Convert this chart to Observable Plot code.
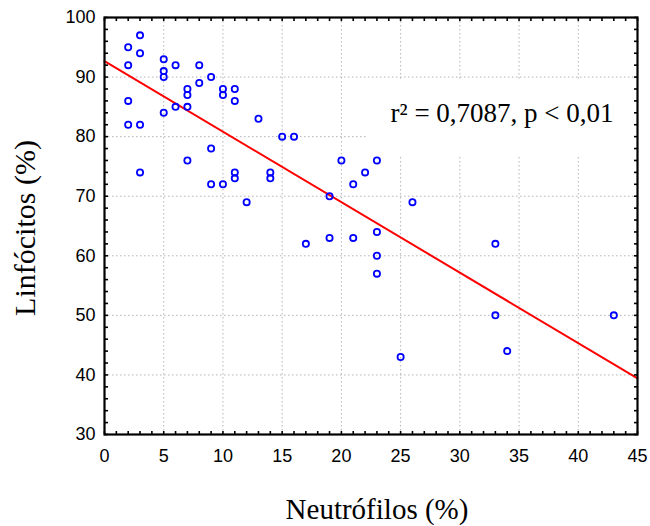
<!DOCTYPE html>
<html>
<head>
<meta charset="utf-8">
<script src="https://cdn.jsdelivr.net/npm/d3@7"></script>
<script src="https://cdn.jsdelivr.net/npm/@observablehq/plot@0.6"></script>
<style>
  html, body { margin: 0; padding: 0; background: #fff; }
</style>
</head>
<body>
<div id="chart"></div>
<script>
// Data
const neutrofilos = [2,2,2,2, 3,3,3,3, 5,5,5,5, 6,6, 7,7,7,7, 8,8, 9,9,9, 10,10,10, 11,11,11,11, 12, 13, 14,14, 15, 16, 17, 19,19, 20, 21,21, 22, 23,23,23,23, 25, 26, 33,33, 34, 43];
const linfocitos  = [95,92,86,82, 97,94,82,74, 93,91,90,84, 92,85, 88,87,85,76, 92,89, 90,78,72, 88,87,72, 88,86,74,73, 69, 83, 74,73, 80, 80, 62, 70,63, 76, 72,63, 74, 76,64,60,57, 43, 69, 62,50, 44, 50];

const xTickLabels = [0,5,10,15,20,25,30,35,40,45];
const yTickLabels = [30,40,50,60,70,80,90,100];
const xLabel = "Neutrófilos (%)";
const yLabel = "Linfócitos (%)";
const annotationText = "r² = 0,7087, p < 0,01";
const annotationAt = [{x: 24.15, y: 82.4}];
const annotationBox = [{x1: 22.3, x2: 45, y1: 76.6, y2: 89.4}];

const points = neutrofilos.map((x, i) => ({x, y: linfocitos[i]}));

// least-squares fit computed from the data
const mx = d3.mean(neutrofilos), my = d3.mean(linfocitos);
const sxy = d3.sum(points, p => (p.x - mx) * (p.y - my));
const sxx = d3.sum(points, p => (p.x - mx) ** 2);
const slope = sxy / sxx, intercept = my - slope * mx;
const xDomain = [0, 45];
const fitLine = xDomain.map(x => ({x, y: intercept + slope * x}));

const serif = "'Liberation Serif', 'Times New Roman', serif";
const sans = "'Liberation Sans', Arial, sans-serif";

const chart = Plot.plot({
  width: 650,
  height: 526,
  marginLeft: 104,
  marginRight: 13,
  marginTop: 17,
  marginBottom: 92,
  style: {background: "#fff", fontFamily: sans, color: "#000", overflow: "visible"},
  x: {domain: xDomain},
  y: {domain: [30, 100]},
  marks: [
    Plot.gridX(xTickLabels, {stroke: "#b4b4b4", strokeOpacity: 1, strokeWidth: 1, strokeDasharray: "1.5,2.5"}),
    Plot.gridY(yTickLabels, {stroke: "#b4b4b4", strokeOpacity: 1, strokeWidth: 1, strokeDasharray: "1.5,2.5"}),
    Plot.rect(annotationBox, {x1: "x1", x2: "x2", y1: "y1", y2: "y2", fill: "#fff"}),
    Plot.line(fitLine, {x: "x", y: "y", stroke: "#ff0000", strokeWidth: 2}),
    Plot.dot(points, {x: "x", y: "y", r: 3.1, stroke: "#0000ff", strokeWidth: 1.8, fill: "none"}),
    Plot.text(annotationAt, {x: "x", y: "y", text: () => annotationText, textAnchor: "start", lineAnchor: "bottom", fontSize: 27, fontFamily: serif, fill: "#000"}),
    // tick labels
    Plot.axisX({ticks: xTickLabels, tickSize: 0, tickPadding: 15, fontSize: 18, fontFamily: sans, label: null, fill: "#000"}),
    Plot.axisY({ticks: yTickLabels, tickSize: 0, tickPadding: 9, fontSize: 18, fontFamily: sans, label: null, fill: "#000"}),
    // inward minor ticks on all four sides
    Plot.axisX({anchor: "bottom", ticks: d3.range(0, 46, 1), tickSize: 3, dy: -3, text: null, label: null, strokeWidth: 1.6}),
    Plot.axisX({anchor: "top", ticks: d3.range(0, 46, 1), tickSize: 3, dy: 3, text: null, label: null, strokeWidth: 1.6}),
    Plot.axisY({anchor: "left", ticks: d3.range(30, 101, 2), tickSize: 4, dx: 4, text: null, label: null, strokeWidth: 1.6}),
    Plot.axisY({anchor: "right", ticks: d3.range(30, 101, 2), tickSize: 4, dx: -4, text: null, label: null, strokeWidth: 1.6}),
    Plot.frame({stroke: "#000", strokeWidth: 2.2}),
    // axis titles
    Plot.text([xLabel], {frameAnchor: "bottom", text: d => d, textAnchor: "middle", lineAnchor: "bottom", dy: 84, dx: 6, fontSize: 29, fontFamily: serif, fill: "#000"}),
    Plot.text([yLabel], {frameAnchor: "left", text: d => d, rotate: -90, textAnchor: "middle", lineAnchor: "bottom", dx: -70, dy: 2, fontSize: 30, fontFamily: serif, fill: "#000"})
  ]
});
document.getElementById("chart").appendChild(chart);
</script>
</body>
</html>
